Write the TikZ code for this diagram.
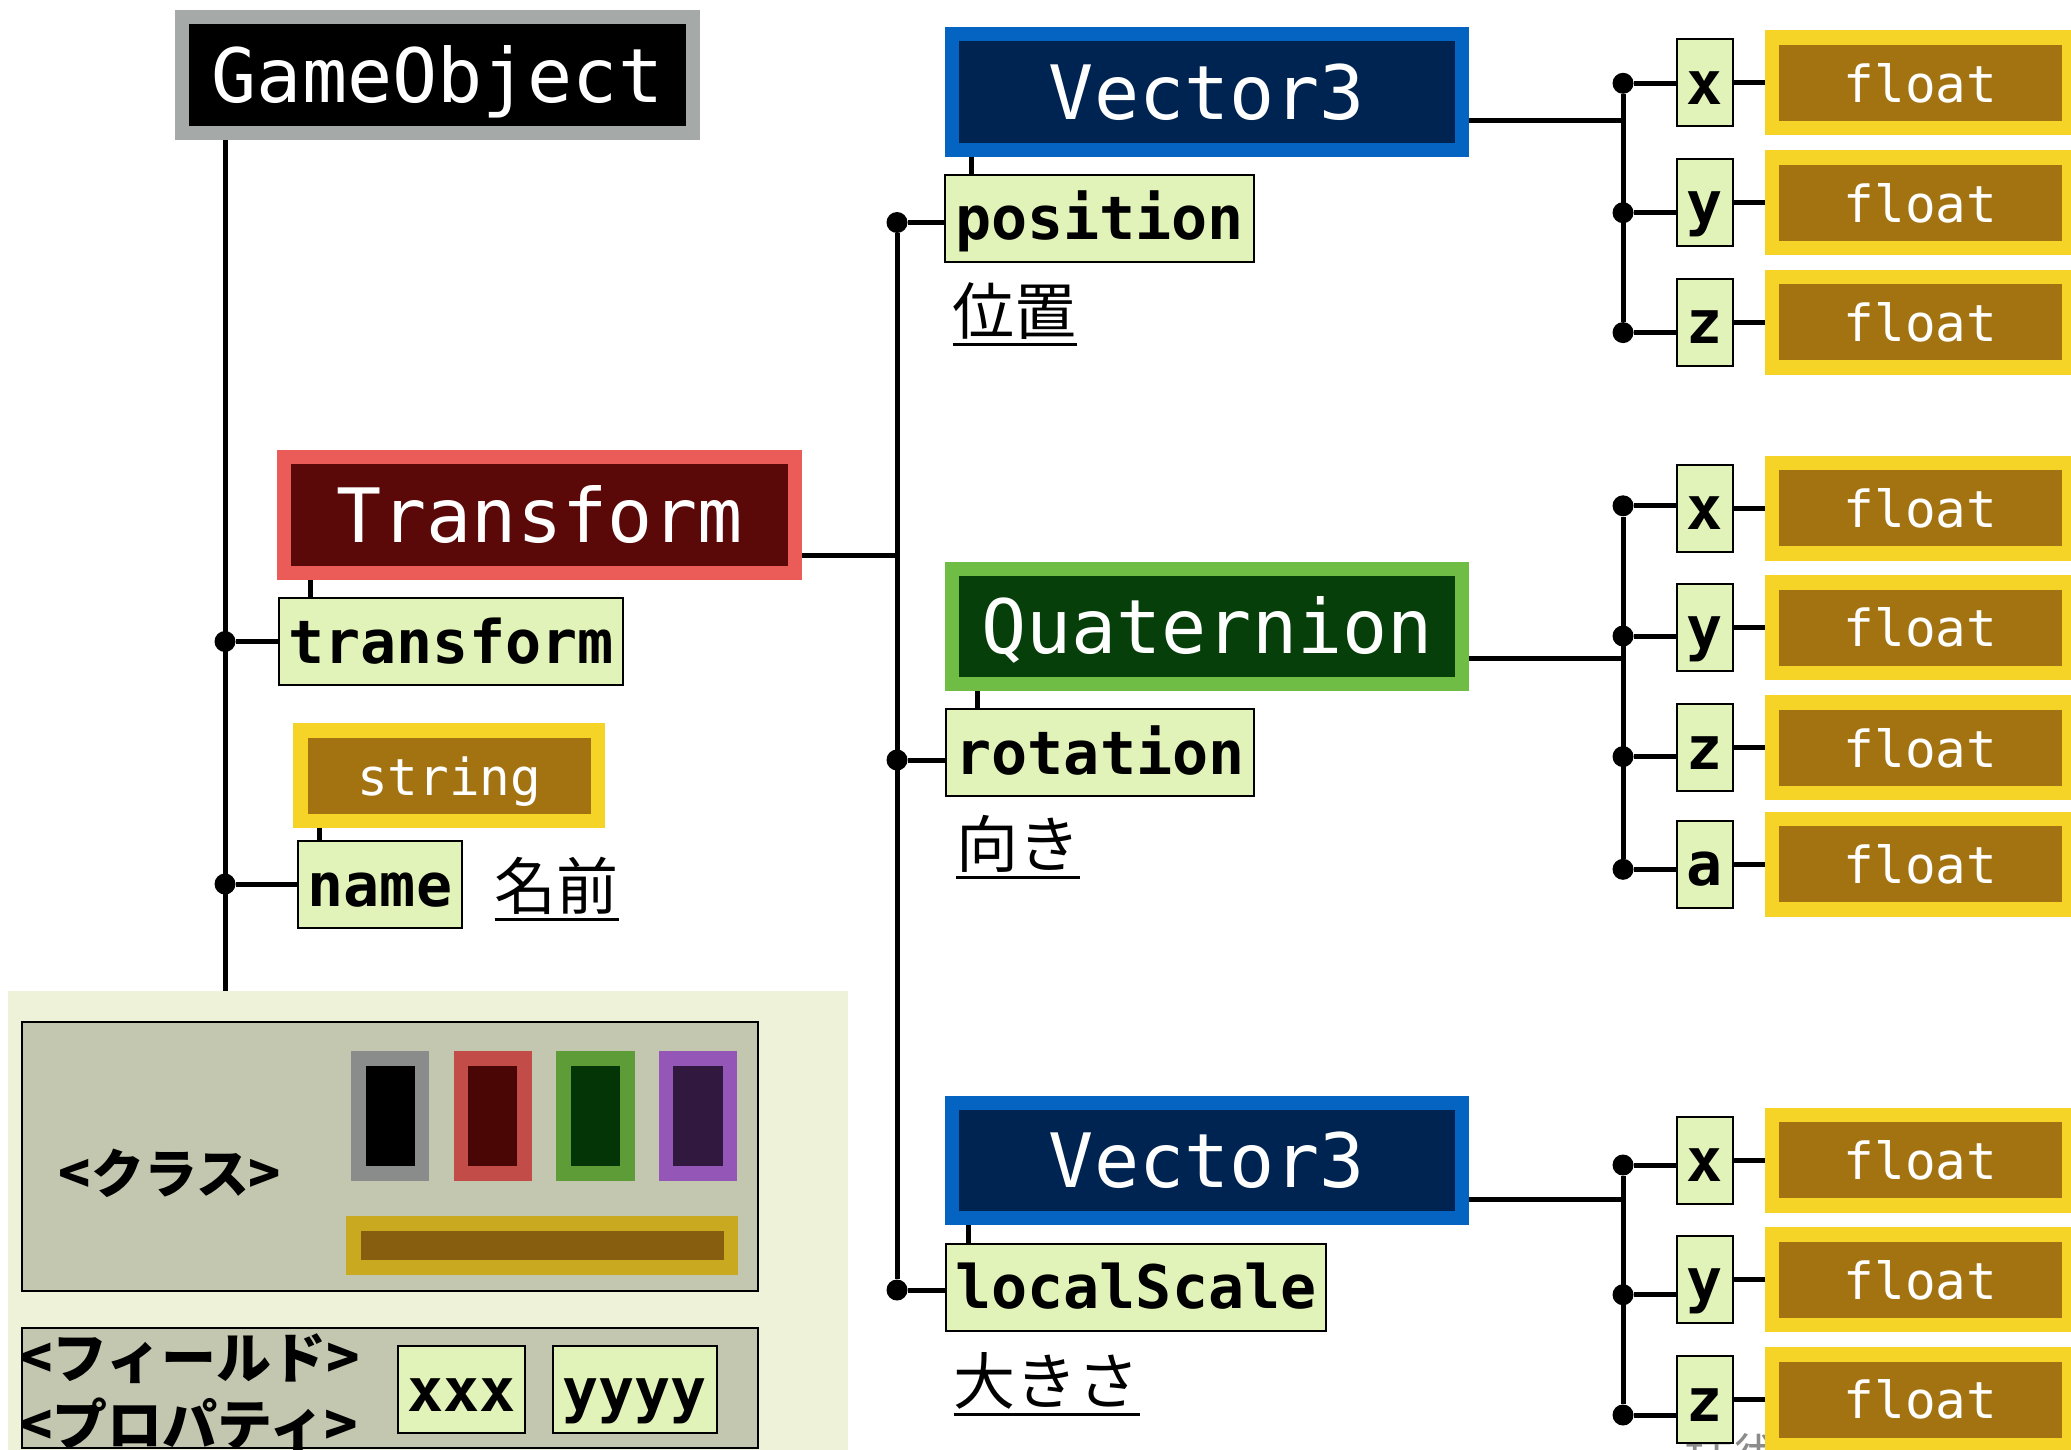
\documentclass[tikz,border=0pt]{standalone}
\usepackage{fontspec}
\newfontfamily\monof{DejaVu Sans Mono}
\newfontfamily\jpf{Noto Sans CJK JP}
\definecolor{gobord}{HTML}{A5A9A8}
\definecolor{trbord}{HTML}{EB5C58}
\definecolor{trin}{HTML}{5A0808}
\definecolor{v3bord}{HTML}{0563C1}
\definecolor{v3in}{HTML}{002451}
\definecolor{qbord}{HTML}{6FBD44}
\definecolor{qin}{HTML}{063F0A}
\definecolor{ylw}{HTML}{F6D327}
\definecolor{brn}{HTML}{A37311}
\definecolor{fldc}{HTML}{E2F3B9}
\definecolor{legbg}{HTML}{EEF2D8}
\definecolor{legbox}{HTML}{C4C7AF}
\definecolor{wmc}{HTML}{8C8C8C}
\definecolor{swa}{HTML}{8A8C8B}
\definecolor{swb}{HTML}{C24C48}
\definecolor{swbi}{HTML}{4A0604}
\definecolor{swc}{HTML}{5E9C37}
\definecolor{swci}{HTML}{043506}
\definecolor{swd}{HTML}{9457B8}
\definecolor{swdi}{HTML}{30183E}
\definecolor{barb}{HTML}{C8A91F}
\definecolor{bari}{HTML}{875E10}
\begin{document}
\begin{tikzpicture}[x=1pt,y=-1pt,
  conn/.style={line width=5pt},
  cls/.style 2 args={draw=#1, fill=#2, line width=14pt, text=white, inner sep=0pt,
     font=\monof\fontsize{75}{90}\selectfont, minimum width=510pt, minimum height=115.5pt,
     text height=54.7pt, text depth=0pt},
  fld/.style={draw=black, line width=2pt, fill=fldc, inner sep=0pt,
     font=\monof\bfseries\fontsize{60}{72}\selectfont, minimum height=87pt,
     text height=43pt, text depth=0pt},
  typ/.style={draw=ylw, fill=brn, line width=14.5pt, text=white, inner sep=0pt,
     font=\monof\fontsize{51}{61}\selectfont, minimum width=297.4pt, minimum height=90.5pt,
     text height=38.8pt, text depth=0pt},
  ltr/.style={fld, minimum width=56pt},
  jdot/.style={circle, fill=black, inner sep=0pt, minimum size=21pt},
  jp/.style={font=\jpf\fontsize{62}{74}\selectfont, inner sep=0pt, anchor=base west},
  uline/.style={line width=3pt},
  sw/.style 2 args={draw=#1, fill=#2, line width=14.5pt, inner sep=0pt,
     minimum width=63.7pt, minimum height=115pt},
  jpb/.style={font=\jpf\bfseries\fontsize{53}{64}\selectfont, inner sep=0pt},
  legb/.style={draw=black, line width=2pt, fill=legbox, inner sep=0pt, minimum width=736pt},
]
\useasboundingbox (0,0) rectangle (2071,1450);
\clip (0,0) rectangle (2071,1450);
\fill[white] (0,0) rectangle (2071,1452);
\node[jp, font=\jpf\fontsize{50}{60}\selectfont, text=wmc] (wm) at (1684,1475) {技術};

% class boxes
\node[cls={gobord}{black}, minimum width=511pt] (go) at (437.5,75) {GameObject};
\node[cls={trbord}{trin}, minimum width=511pt, minimum height=116pt] (tr) at (539.7,515) {Transform};
\node[cls={v3bord}{v3in}] (v1) at (1207,91.8) {Vector3};
\node[cls={qbord}{qin}, minimum height=115pt] (q) at (1207,626) {Quaternion};
\node[cls={v3bord}{v3in}] (v2) at (1207,1160.3) {Vector3};

% field boxes
\node[fld, minimum width=344pt] (ftr) at (451,641.5) {transform};
\node[fld, minimum width=164pt] (fnm) at (379.9,884.5) {name};
\node[fld, minimum width=309pt] (fpos) at (1099.5,218.5) {position};
\node[fld, minimum width=308pt] (frot) at (1100,752.5) {rotation};
\node[fld, minimum width=380pt] (fsc) at (1136,1287) {localScale};

\node[typ] (str) at (449.3,775.6) {string};

% japanese labels
\node[jp] (lpos) at (952.5,334) {位置};
\node[jp] (lrot) at (956,867.5) {向き};
\node[jp] (lsc) at (953.5,1404.5) {大きさ};
\node[jp] (lnm) at (494.5,909.5) {名前};
\foreach \n in {lpos,lrot,lsc,lnm}
  \draw[uline] ([yshift=-10pt]\n.base west) -- ([yshift=-10pt]\n.base east);

% dots
\node[jdot] (dtr) at (225,641.5) {};
\node[jdot] (dnm) at (225,884) {};
\node[jdot] (dpos) at (897,222.5) {};
\node[jdot] (drot) at (897,760) {};
\node[jdot] (dsc) at (897,1290) {};

% component rows
\foreach \n/\lt/\yy/\dd in {ax/x/82.7/83.3, ay/y/202.7/212.7, az/z/322.4/332.6,
    bx/x/508/505.8, by/y/627.5/636, bz/z/747.7/756.6, ba/a/864.3/869.3,
    cx/x/1160/1165, cy/y/1279.7/1294.7, cz/z/1399.5/1415}{
  \node[typ] (f\n) at (1920.5,\yy) {float};
  \node[ltr] (l\n) at (1705,\yy) {\lt};
  \node[jdot] (d\n) at (1623,\dd) {};
  \draw[conn] (d\n) -- (d\n -| l\n.west);
  \draw[conn] (l\n.east) -- (f\n.west);
}
\draw[conn] (dax) -- (daz);
\draw[conn] (dbx) -- (dba);
\draw[conn] (dcx) -- (dcz);

% legend
\node[fill=legbg, inner sep=0pt, minimum width=840pt, minimum height=470pt, anchor=north west] (legend) at (8,990.6) {};
\node[legb, minimum height=269pt] (lcls) at (390,1156.5) {};
\node[legb, minimum height=120pt] (lfld) at (390,1388) {};
\node[sw={swa}{black}] (s1) at (390.2,1115.8) {};
\node[sw={swb}{swbi}] (s2) at (492.8,1115.8) {};
\node[sw={swc}{swci}] (s3) at (595.5,1115.8) {};
\node[sw={swd}{swdi}] (s4) at (698,1115.8) {};
\node[draw=barb, fill=bari, line width=14.5pt, inner sep=0pt, minimum width=377.7pt, minimum height=44pt] (bar) at (542.2,1245.3) {};
\node[jpb, anchor=base] (tcls) at (170,1193) {<クラス>};
\node[jpb, font=\jpf\bfseries\fontsize{55}{66}\selectfont, anchor=base west] (tf1) at (19,1378) {<フィールド>};
\node[jpb, font=\jpf\bfseries\fontsize{55}{66}\selectfont, anchor=base west] (tf2) at (19,1445) {<プロパティ>};
\node[fld, minimum width=127pt] (xxx) at (461.4,1389.5) {xxx};
\node[fld, minimum width=163.6pt] (yyyy) at (634.8,1389.5) {yyyy};

% trunks
\draw[conn] (go.south -| dtr) -- (legend.north -| dtr);
\draw[conn] (dtr) -- (dtr -| ftr.west);
\draw[conn] (dnm) -- (dnm -| fnm.west);
\draw[conn] (dpos) -- (dsc);
\draw[conn] (dpos) -- (dpos -| fpos.west);
\draw[conn] (drot) -- (drot -| frot.west);
\draw[conn] (dsc) -- (dsc -| fsc.west);
\coordinate (ctr) at ([yshift=-40pt]tr.east);
\draw[conn] (ctr) -- (ctr -| dpos);
\coordinate (cv1) at ([yshift=-28.7pt]v1.east);
\draw[conn] (cv1) -- (cv1 -| dax);
\coordinate (cq) at ([yshift=-32pt]q.east);
\draw[conn] (cq) -- (cq -| dbx);
\coordinate (cv2) at ([yshift=-39pt]v2.east);
\draw[conn] (cv2) -- (cv2 -| dcx);

% ticks
\coordinate (ttr) at ([xshift=32pt]ftr.north west);
\draw[conn] (ttr) -- (ttr |- tr.south);
\coordinate (tnm) at ([xshift=23pt]fnm.north west);
\draw[conn] (tnm) -- (tnm |- str.south);
\coordinate (tpos) at ([xshift=27pt]fpos.north west);
\draw[conn] (tpos) -- (tpos |- v1.south);
\coordinate (trot) at ([xshift=32pt]frot.north west);
\draw[conn] (trot) -- (trot |- q.south);
\coordinate (tsc) at ([xshift=23pt]fsc.north west);
\draw[conn] (tsc) -- (tsc |- v2.south);
\end{tikzpicture}
\end{document}
